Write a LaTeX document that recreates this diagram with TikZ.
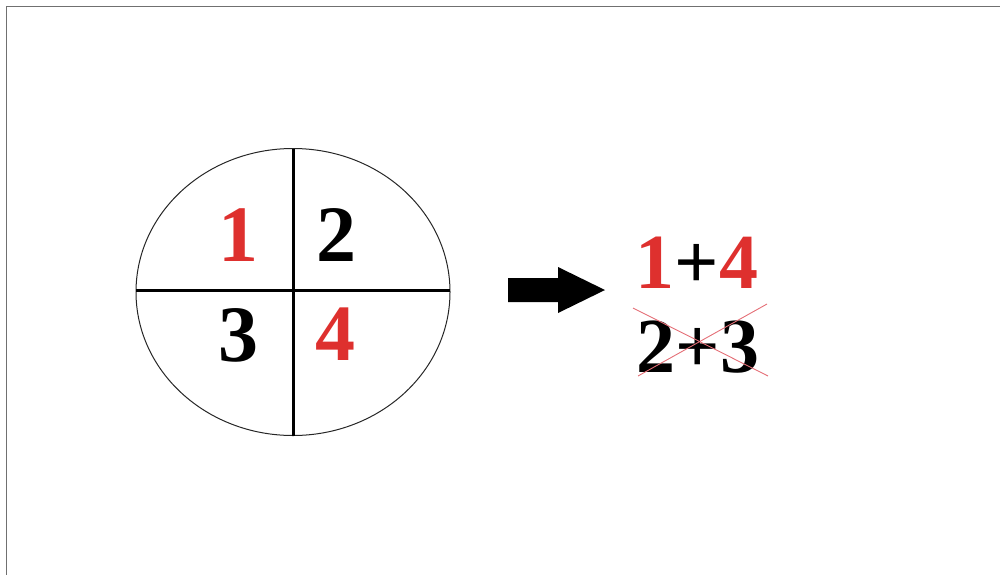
\documentclass[tikz,border=0pt]{standalone}
\usepackage{fontspec}
\setmainfont{Liberation Serif}
\definecolor{numred}{RGB}{222,48,46}
\definecolor{crossred}{RGB}{228,110,118}
\definecolor{framegray}{RGB}{112,112,112}
\begin{document}
\begin{tikzpicture}[x=1pt,y=-1pt,
  digit/.style={inner sep=0pt,anchor=base,font=\fontsize{80}{80}\selectfont\bfseries},
  expr/.style={inner sep=0pt,anchor=base,font=\fontsize{78}{78}\selectfont\bfseries},
  divider/.style={line width=3pt,black},
  crossline/.style={line width=0.9pt,crossred}]
\useasboundingbox (0,0) rectangle (1000,574);
% frame
\draw[framegray,line width=1.6pt] (6.5,580) -- (6.5,6.5) -- (1010,6.5);
% circle
\draw[line width=1pt,black!85] (293,292) ellipse [x radius=157,y radius=143.5];
\coordinate (vt) at (293,149);
\coordinate (vb) at (293,436);
\coordinate (hl) at (136,290);
\coordinate (hr) at (450,290);
\draw[divider] (vt) -- (vb);
\draw[divider] (hl) -- (hr);
% digits
\node[digit,text=numred] (n1) at (238,261) {1};
\node[digit] (n2) at (336,261) {2};
\node[digit] (n3) at (238,361) {3};
\node[digit,text=numred] (n4) at (335,360) {4};
% arrow
\fill[black] (508,278) -- (558,278) -- (558,267) -- (605,290) -- (558,313) -- (558,302) -- (508,302) -- cycle;
% expressions
\node[expr] (e1) at (697,288) {\textcolor{numred}{1}+\textcolor{numred}{4}};
\node[expr] (e2) at (698,372) {2+3};
\draw[crossline] (633,308) -- (768,376);
\draw[crossline] (638,376) -- (767,304);
\end{tikzpicture}
\end{document}
